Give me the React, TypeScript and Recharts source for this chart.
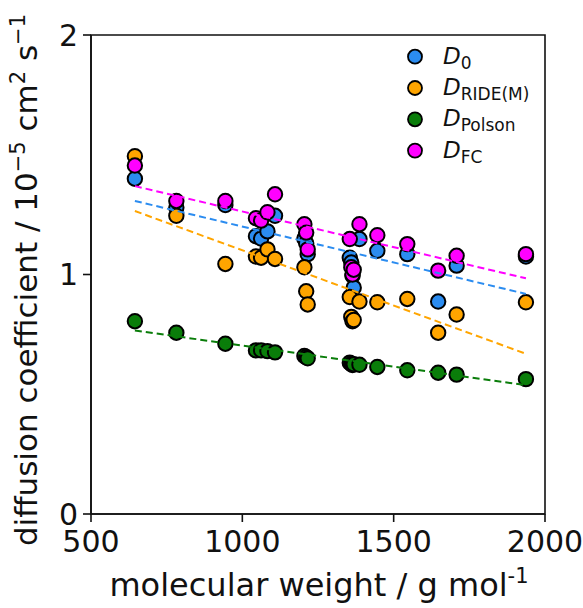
import { ScatterChart, Scatter, XAxis, YAxis, ReferenceArea, Legend } from "recharts";

// molecular weight of each compound (g/mol)
const molWeight = [645, 782, 944, 1045, 1062, 1083, 1108, 1205, 1211, 1216, 1355, 1360, 1364, 1368, 1387, 1446, 1545, 1647, 1708, 1937];
const dZero = [1.40, 1.28, 1.29, 1.16, 1.15, 1.18, 1.245, 1.15, 1.13, 1.085, 1.07, 1.05, 0.995, 0.945, 1.148, 1.099, 1.085, 0.887, 1.037, 1.075];
const dRide = [1.494, 1.245, 1.044, 1.075, 1.07, 1.105, 1.065, 1.03, 0.93, 0.875, 0.906, 0.823, 0.805, 0.81, 0.887, 0.884, 0.898, 0.757, 0.833, 0.884];
const dPolson = [0.805, 0.757, 0.711, 0.683, 0.683, 0.68, 0.675, 0.66, 0.655, 0.65, 0.632, 0.626, 0.622, 0.625, 0.623, 0.614, 0.6, 0.59, 0.582, 0.563];
const dFC = [1.455, 1.307, 1.307, 1.235, 1.225, 1.26, 1.335, 1.21, 1.175, 1.105, 1.148, 1.03, 1.0, 1.02, 1.21, 1.164, 1.127, 1.016, 1.078, 1.085];

// fitted trend lines (end points)
const fitX = [645, 1937];
const fitZero = [1.307, 0.919];
const fitRide = [1.265, 0.669];
const fitPolson = [0.766, 0.538];
const fitFC = [1.369, 0.984];

const xTicks = [500, 1000, 1500, 2000];
const yTicks = [0, 1, 2];

const series = [
  { key: "zero", sub: "0", color: "#2b8cf0", vals: dZero, fit: fitZero },
  { key: "ride", sub: "RIDE(M)", color: "#ffa500", vals: dRide, fit: fitRide },
  { key: "polson", sub: "Polson", color: "#0a7d0a", vals: dPolson, fit: fitPolson },
  { key: "fc", sub: "FC", color: "#ff00ff", vals: dFC, fit: fitFC },
];

const toPts = (ys: number[], xs: number[]) => xs.map((x, i) => ({ x, y: ys[i] }));

const FONT = "DejaVu Sans, Liberation Sans, sans-serif";
const INK = "#111";

const Dot = (props: any) => {
  const { cx, cy, fill } = props;
  if (cx == null || cy == null) return <g />;
  return <circle cx={cx} cy={cy} r={7.2} fill={fill} stroke="#000" strokeWidth={2} />;
};

const NoDot = () => <g />;

const LegendBox = () => (
  <svg width={170} height={130} style={{ overflow: "visible" }}>
    {series.map((s, i) => {
      const cy = 16.7 + i * 31.3;
      return (
        <g key={s.key}>
          <circle cx={15} cy={cy} r={7} fill={s.color} stroke="#000" strokeWidth={1.8} />
          <text x={43} y={cy + 7} fontFamily={FONT} fill={INK} fontSize={23}>
            <tspan fontStyle="italic">D</tspan>
            <tspan fontSize={17} dy={5}>{s.sub}</tspan>
          </text>
        </g>
      );
    })}
  </svg>
);

const XTitle = () => (
  <text x={319} y={596} textAnchor="middle" fontFamily={FONT} fontSize={32} fill={INK}>
    molecular weight / g mol
    <tspan fontSize={21} dy={-13}>-1</tspan>
  </text>
);

const YTitle = () => (
  <text
    x={0}
    y={0}
    transform="translate(37 280) rotate(-90)"
    textAnchor="middle"
    fontFamily={FONT}
    fontSize={31}
    fill={INK}
  >
    diffusion coefficient / 10
    <tspan fontSize={21} dy={-12}>−5</tspan>
    <tspan dy={12}> cm</tspan>
    <tspan fontSize={21} dy={-12}>2</tspan>
    <tspan dy={12}> s</tspan>
    <tspan fontSize={21} dy={-12}>−1</tspan>
  </text>
);

export default function App() {
  return (
    <div style={{ position: "absolute", left: 0, top: 0, width: 583, height: 608, background: "#fff" }}>
      <ScatterChart width={583} height={608} margin={{ top: 35, right: 38, bottom: 34, left: 0 }}>
        <XAxis
          type="number"
          dataKey="x"
          domain={[500, 2000]}
          ticks={xTicks}
          allowDataOverflow
          height={60}
          tickSize={8}
          tickMargin={9}
          stroke={INK}
          strokeWidth={1.6}
          tick={{ fontSize: 30, fill: INK, fontFamily: FONT }}
          label={{ content: () => <XTitle /> }}
        />
        <YAxis
          type="number"
          dataKey="y"
          domain={[0, 2]}
          ticks={yTicks}
          allowDataOverflow
          width={91}
          tickSize={8}
          tickMargin={5}
          stroke={INK}
          strokeWidth={1.6}
          tick={{ fontSize: 30, fill: INK, fontFamily: FONT }}
          label={{ content: () => <YTitle /> }}
        />
        <ReferenceArea x1={500} x2={2000} y1={0} y2={2} fill="none" stroke={INK} strokeWidth={1.6} fillOpacity={0} />
        {series.map((s) => (
          <Scatter
            key={s.key}
            name={s.key}
            data={toPts(s.vals, molWeight)}
            fill={s.color}
            shape={<Dot />}
            isAnimationActive={false}
          />
        ))}
        {series.map((s) => (
          <Scatter
            key={s.key + "-fit"}
            name={s.key + " fit"}
            data={toPts(s.fit, fitX)}
            line={{ stroke: s.color, strokeWidth: 2, strokeDasharray: "7 4" }}
            shape={<NoDot />}
            isAnimationActive={false}
          />
        ))}
        <Legend
          layout="vertical"
          verticalAlign="middle"
          align="center"
          content={() => <LegendBox />}
          wrapperStyle={{ position: "absolute", left: 400, top: 40, width: 170, height: 130 }}
        />
      </ScatterChart>
    </div>
  );
}
